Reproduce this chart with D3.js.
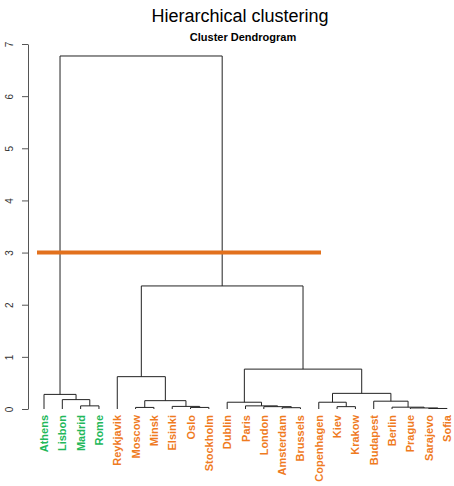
<!DOCTYPE html>
<html lang="en">
<head>
    <meta charset="UTF-8">
    <script src="https://d3js.org/d3.v7.min.js"></script>
    <style>
        body {
            margin: 0;
            font-family: Arial, "Liberation Sans", sans-serif;
            background: white;
        }
    </style>
</head>
<body>
<div id="my_dataviz"></div>

<script>
// Leaves in dendrogram order
var leaves = ["Athens", "Lisbon", "Madrid", "Rome", "Reykjavik", "Moscow", "Minsk",
    "Elsinki", "Oslo", "Stockholm", "Dublin", "Paris", "London", "Amsterdam",
    "Brussels", "Copenhagen", "Kiev", "Krakow", "Budapest", "Berlin", "Prague",
    "Sarajevo", "Sofia"];

// Cluster of each leaf (cut at height 3)
var clusters = [1, 1, 1, 1, 2, 2, 2, 2, 2, 2, 2, 2, 2, 2, 2, 2, 2, 2, 2, 2, 2, 2, 2];

// Merge steps like R's hclust: negative = leaf (1-based), positive = earlier step
var mergeLeft  = [-22, -21, -14, -6, -9, -20, -13, -17, -8, -3, -12, -11, -16, -19, 4, -2, -1, 13, -5, 12, 19, 17];
var mergeRight = [-23, 1, -15, -7, -10, 2, 3, -18, 5, -4, 7, 11, 8, 6, 9, 10, 16, 14, 15, 18, 20, 21];
var mergeHeight = [0.01, 0.02, 0.025, 0.03, 0.03, 0.035, 0.045, 0.045, 0.05, 0.06, 0.06,
    0.13, 0.13, 0.15, 0.16, 0.18, 0.28, 0.30, 0.62, 0.765, 2.36, 6.77];

var yTicks = [0, 1, 2, 3, 4, 5, 6, 7];
var cutHeight = 3;

var clusterColor = { 1: "#22b85a", 2: "#ef7b1f" };

var width = 454, height = 486;

var svg = d3.select("#my_dataviz")
    .append("svg")
        .attr("width", width)
        .attr("height", height);

// Titles
svg.append("text")
    .attr("x", 240)
    .attr("y", 22)
    .attr("text-anchor", "middle")
    .style("font-size", "18px")
    .text("Hierarchical clustering");

svg.append("text")
    .attr("x", 243)
    .attr("y", 41)
    .attr("text-anchor", "middle")
    .style("font-size", "11px")
    .style("font-weight", "bold")
    .text("Cluster Dendrogram");

// Scales
var x = d3.scalePoint()
    .domain(leaves)
    .range([44, 447]);

var y = d3.scaleLinear()
    .domain([0, 7])
    .range([409, 44]);

// Y axis
var yAxis = svg.append("g")
    .attr("transform", "translate(28,0)")
    .call(d3.axisLeft(y).tickValues(yTicks).tickFormat(d3.format("d")).tickSize(6).tickSizeOuter(0));

yAxis.select(".domain").attr("stroke", "#555");
yAxis.selectAll(".tick line").attr("stroke", "#555");
yAxis.selectAll(".tick text")
    .attr("x", null)
    .attr("dy", null)
    .attr("transform", "translate(-15,0) rotate(-90)")
    .attr("text-anchor", "middle")
    .style("font-size", "10px")
    .style("font-family", "Arial, 'Liberation Sans', sans-serif")
    .attr("fill", "#333");

// Node position of a merge reference
var stepPos = [];
function pos(ref) {
    if (ref < 0) return { x: x(leaves[-ref - 1]), h: 0 };
    return stepPos[ref - 1];
}

var links = [];
mergeHeight.forEach(function(h, i) {
    var a = pos(mergeLeft[i]), b = pos(mergeRight[i]);
    links.push({ x1: a.x, h1: a.h, x2: b.x, h2: b.h, h: h });
    stepPos.push({ x: (a.x + b.x) / 2, h: h });
});

// Dendrogram branches
svg.selectAll("path.branch")
    .data(links)
    .enter()
    .append("path")
        .attr("class", "branch")
        .attr("fill", "none")
        .attr("stroke", "#222")
        .attr("stroke-width", 1)
        .attr("d", function(d) {
            return "M" + d.x1 + "," + y(d.h1) + "V" + y(d.h) + "H" + d.x2 + "V" + y(d.h2);
        });

// Leaf labels
svg.selectAll("text.leaf")
    .data(leaves)
    .enter()
    .append("text")
        .attr("class", "leaf")
        .attr("transform", function(d) { return "translate(" + (x(d) + 4) + ",415) rotate(-90)"; })
        .attr("text-anchor", "end")
        .style("font-size", "11px")
        .style("font-weight", "bold")
        .attr("fill", function(d, i) { return clusterColor[clusters[i]]; })
        .text(function(d) { return d; });

// Cut line
svg.append("line")
    .attr("x1", 37)
    .attr("x2", 321)
    .attr("y1", y(cutHeight))
    .attr("y2", y(cutHeight))
    .attr("stroke", "#e2711d")
    .attr("stroke-width", 4);
</script>
</body>
</html>
